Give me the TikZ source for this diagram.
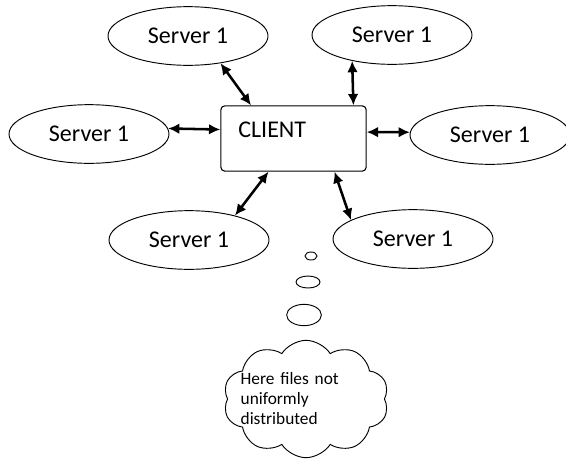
\documentclass[tikz,border=0pt]{standalone}
\usepackage{fontspec}
\setmainfont{Carlito}
\usepackage {tikz}
\usetikzlibrary {positioning}
\usetikzlibrary{shapes.geometric}
\usetikzlibrary{shapes.symbols}
\usetikzlibrary{arrows.meta}
\tikzset{
    server/.style = {ellipse,draw,line width=0.7pt,minimum width=120pt,minimum height=44pt,inner sep=0pt,font=\fontsize{18}{20}\selectfont},
    client/.style = {rectangle,draw,rounded corners=3pt,line width=0.8pt,minimum width=109pt,minimum height=49pt},
    link/.style = {{Latex[length=8.5pt,width=8pt]}-{Latex[length=8.5pt,width=8pt]},line width=1.9pt},
    bubble/.style = {ellipse,draw,line width=0.7pt,inner sep=0pt},
    thought/.style = {cloud,draw,cloud puffs=10,cloud puff arc=115,line width=0.7pt,minimum width=124pt,minimum height=88pt,inner sep=0pt}}
\begin{document}
\begin{tikzpicture}[x=0.75pt,y=-0.75pt]
        \useasboundingbox (0,0) rectangle (566,461);
        \path (293.5,138.5) node[client,label={[anchor=west,xshift=10pt,yshift=6.4pt,font=\fontsize{18}{20}\selectfont]west:CLIENT}] (cli) {}
        (188,36) node[server] (srvA) {Server 1}
        (392,35) node[server] (srvB) {Server 1}
        (89,134) node[server] (srvC) {Server 1}
        (490,135) node[server] (srvD) {Server 1}
        (189,240) node[server] (srvE) {Server 1}
        (413,239) node[server] (srvF) {Server 1};
        \path (311,256) node[bubble,minimum width=9pt,minimum height=6pt] (b1) {}
        (308,282) node[bubble,minimum width=18pt,minimum height=9pt] (b2) {}
        (304,315) node[bubble,minimum width=26pt,minimum height=16pt] (b3) {}
        (306,399) node[thought,label={[align=left,text width=98pt,font=\fontsize{13}{15}\selectfont]center:Here files not\\uniformly\\distributed}] (note) {};
        \draw[link] (srvA.-40) -- (cli.142);
        \draw[link] (srvB.-147) -- (cli.29);
        \draw[link] (srvC.4) -- (cli.173);
        \draw[link] (cli.5) -- (srvD.178);
        \draw[link] (srvE.28) -- (cli.-127);
        \draw[link] (cli.-39) -- (srvF.163);
    \end{tikzpicture}
\end{document}
